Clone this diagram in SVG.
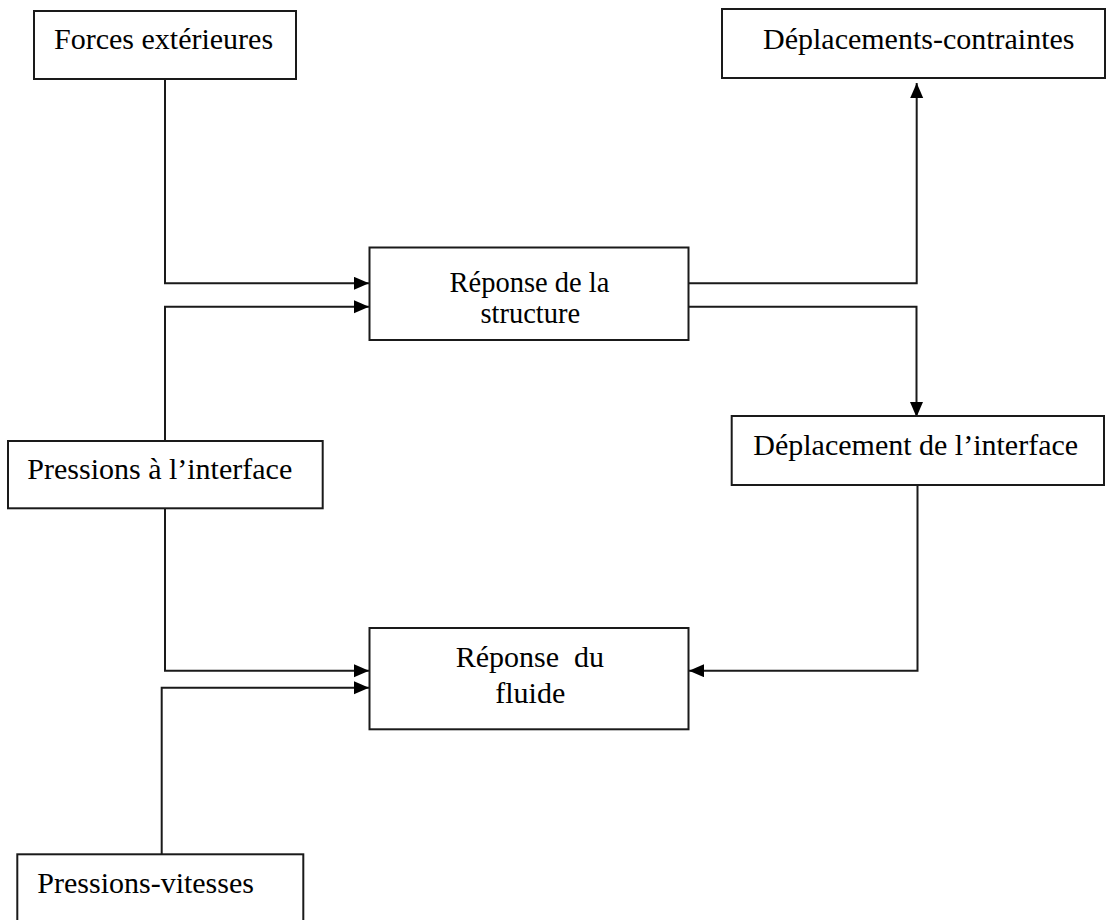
<svg xmlns="http://www.w3.org/2000/svg" width="1106" height="920" viewBox="0 0 1106 920">
<style>
  .box { fill: #fff; stroke: #1a1a1a; stroke-width: 2; }
  .lbl { font-family: "Liberation Serif", "Times New Roman", serif; font-size: 30px; fill: #000; }
  .sm { font-size: 28.5px; }
  .mid { text-anchor: middle; }
  .conn { fill: none; stroke: #1a1a1a; stroke-width: 2; marker-end: url(#arr); }
</style>
<defs>
  <marker id="arr" markerUnits="userSpaceOnUse" markerWidth="16" markerHeight="14" refX="15" refY="6.5" orient="auto">
    <path d="M0,0 L15,6.5 L0,13 z" fill="#000"/>
  </marker>
</defs>
<rect width="1106" height="920" fill="#fff"/>
<g id="connectors">
  <path class="conn" d="M165,79 V283.3 H369"/>
  <path class="conn" d="M165,441 V306.7 H369"/>
  <path class="conn" d="M688,283.3 H916.7 V83"/>
  <path class="conn" d="M688,306.7 H916.5 V417"/>
  <path class="conn" d="M917.5,485 V670.7 H689"/>
  <path class="conn" d="M165,508 V670.7 H369"/>
  <path class="conn" d="M161.7,854 V687.7 H369"/>
</g>
<g id="forces">
  <rect class="box" x="34" y="11" width="262" height="68"/>
  <text class="lbl" x="54" y="49">Forces extérieures</text>
</g>
<g id="deplacements-contraintes">
  <rect class="box" x="722" y="9" width="383" height="69"/>
  <text class="lbl" x="763" y="49">Déplacements-contraintes</text>
</g>
<g id="reponse-structure">
  <rect class="box" x="369.5" y="247.5" width="319" height="92.5"/>
  <text class="lbl sm mid" x="529.5" y="291.5">Réponse de la</text>
  <text class="lbl sm mid" x="530.3" y="323">structure</text>
</g>
<g id="deplacement-interface">
  <rect class="box" x="731.7" y="416" width="372.3" height="69"/>
  <text class="lbl" x="753.3" y="455">Déplacement de l’interface</text>
</g>
<g id="pressions-interface">
  <rect class="box" x="8" y="441" width="314.7" height="67.3"/>
  <text class="lbl" x="27.3" y="479">Pressions à l’interface</text>
</g>
<g id="reponse-fluide">
  <rect class="box" x="369.5" y="628" width="319" height="101.3"/>
  <text class="lbl mid" x="529.8" y="666.7" xml:space="preserve">Réponse  du</text>
  <text class="lbl mid" x="530.3" y="702.7">fluide</text>
</g>
<g id="pressions-vitesses">
  <rect class="box" x="17.3" y="854.3" width="286" height="80"/>
  <text class="lbl" x="37.3" y="892.7">Pressions-vitesses</text>
</g>
</svg>
